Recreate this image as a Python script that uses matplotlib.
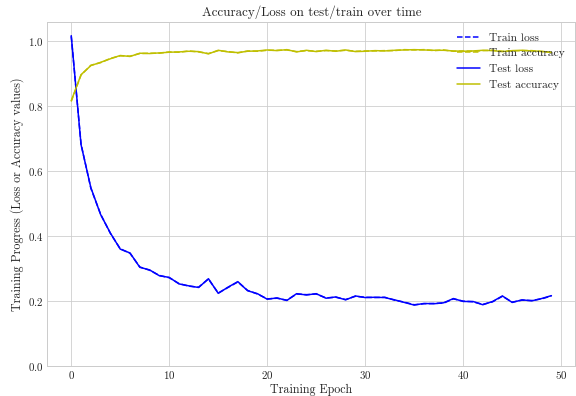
import matplotlib
matplotlib.use("Agg")
import matplotlib.pyplot as plt

plt.style.use("seaborn-v0_8-whitegrid")
plt.rcParams["font.family"] = "serif"
plt.rcParams["font.serif"] = ["cmr10", "DejaVu Serif"]
plt.rcParams["axes.formatter.use_mathtext"] = True
plt.rcParams["xtick.labelsize"] = 11
plt.rcParams["ytick.labelsize"] = 11
plt.rcParams["axes.labelsize"] = 12
plt.rcParams["axes.titlesize"] = 13
plt.rcParams["legend.fontsize"] = 11.5

epochs = list(range(50))

test_loss = [1.015, 0.680, 0.548, 0.465, 0.408, 0.359, 0.347, 0.303, 0.295, 0.277,
             0.272, 0.252, 0.246, 0.241, 0.268, 0.223, 0.242, 0.259, 0.231, 0.222,
             0.205, 0.209, 0.201, 0.222, 0.218, 0.222, 0.208, 0.212, 0.203, 0.215,
             0.210, 0.211, 0.210, 0.203, 0.195, 0.187, 0.192, 0.191, 0.194, 0.207,
             0.198, 0.198, 0.188, 0.198, 0.215, 0.195, 0.203, 0.200, 0.207, 0.216]
train_loss = [1.013, 0.682, 0.546, 0.466, 0.407, 0.360, 0.346, 0.304, 0.294, 0.278,
              0.271, 0.253, 0.245, 0.242, 0.267, 0.224, 0.241, 0.258, 0.232, 0.221,
              0.206, 0.208, 0.202, 0.221, 0.219, 0.221, 0.209, 0.211, 0.204, 0.214,
              0.211, 0.210, 0.211, 0.202, 0.196, 0.188, 0.191, 0.192, 0.193, 0.206,
              0.199, 0.197, 0.189, 0.197, 0.214, 0.196, 0.202, 0.201, 0.206, 0.215]
test_acc = [0.815, 0.895, 0.923, 0.933, 0.944, 0.954, 0.951, 0.961, 0.960, 0.962,
            0.964, 0.965, 0.967, 0.966, 0.959, 0.970, 0.965, 0.963, 0.967, 0.968,
            0.971, 0.969, 0.972, 0.965, 0.970, 0.966, 0.970, 0.967, 0.971, 0.966,
            0.967, 0.969, 0.968, 0.970, 0.971, 0.972, 0.971, 0.970, 0.970, 0.968,
            0.967, 0.968, 0.970, 0.969, 0.966, 0.969, 0.970, 0.968, 0.967, 0.963]
train_acc = [0.813, 0.894, 0.924, 0.932, 0.945, 0.953, 0.952, 0.960, 0.961, 0.961,
             0.965, 0.964, 0.968, 0.965, 0.960, 0.969, 0.966, 0.962, 0.968, 0.967,
             0.970, 0.970, 0.971, 0.966, 0.969, 0.967, 0.969, 0.968, 0.970, 0.967,
             0.968, 0.968, 0.969, 0.969, 0.972, 0.971, 0.972, 0.969, 0.971, 0.967,
             0.968, 0.967, 0.969, 0.970, 0.967, 0.968, 0.969, 0.969, 0.966, 0.964]

fig = plt.figure(figsize=(8, 5.5), dpi=72)
ax = fig.add_axes([0.082, 0.076, 0.917, 0.868])

ax.plot(epochs, train_loss, "b--", label="Train loss")
ax.plot(epochs, train_acc, "y--", label="Train accuracy")
ax.plot(epochs, test_loss, "b-", label="Test loss")
ax.plot(epochs, test_acc, "y-", label="Test accuracy")
ax.set_ylim(bottom=0)

ax.set_title("Accuracy/Loss on test/train over time")
ax.set_xlabel("Training Epoch", labelpad=2)
ax.set_ylabel("Training Progress (Loss or Accuracy values)")
ax.legend(loc="upper right")

fig.savefig("out.png", dpi=72)
